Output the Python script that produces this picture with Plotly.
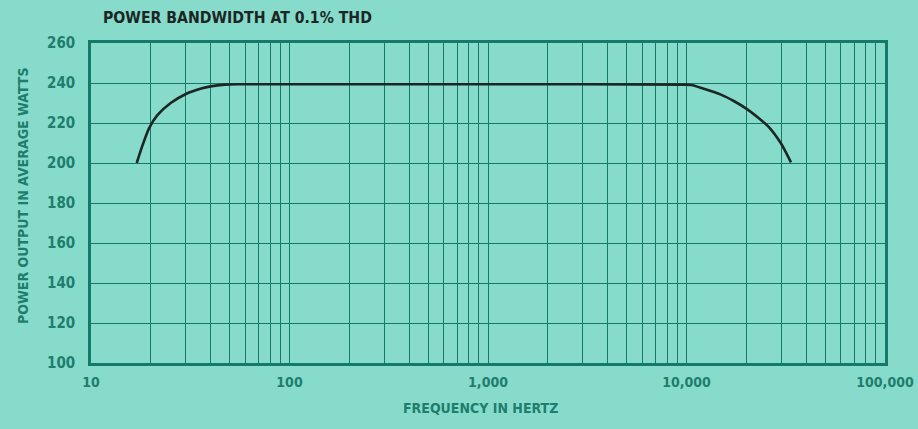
"""Power bandwidth at 0.1% THD -- power output vs frequency (log axis)."""

import plotly.graph_objects as go

# curve (Hz, average watts)
freq_hz = [17.0, 18.1, 19.6, 21.6, 25.3, 29.9, 35.9, 40, 47.1, 55.1, 70, 100,
           1000, 10000, 10600, 11900, 14900, 17300, 20000, 23400, 25800,
           30000, 33600]
power_w = [200, 208.3, 217.3, 223.9, 230.1, 234.4, 237.2, 238.3, 239.2, 239.4,
           239.4, 239.4, 239.4, 239.2, 239, 237.5, 234.2, 231, 227.2, 222,
           218.3, 209.6, 200.3]

y_ticks = [100, 120, 140, 160, 180, 200, 220, 240, 260]
x_ticks = [10, 100, 1000, 10000, 100000]
x_labels = ["10", "100", "1,000", "10,000", "100,000"]

BG = "#86dbcb"
GRID = "#15796a"
TEXT = "#1f7d6d"
INK = "#1c2624"
FONT = "DejaVu Sans Condensed, DejaVu Sans, sans-serif"

# every 2..9 multiple inside each decade gets a grid line
minor_vals = [m * 10 ** d for d in range(1, 5) for m in range(2, 10)]

fig = go.Figure()
fig.add_trace(go.Scatter(
    x=freq_hz, y=power_w, mode="lines",
    line=dict(color=INK, width=2.6, shape="spline", smoothing=0.6),
    hoverinfo="skip", showlegend=False,
))

fig.update_xaxes(
    type="log", range=[1, 5], automargin=False,
    tickvals=x_ticks, ticktext=x_labels, ticks="",
    showgrid=True, gridcolor=GRID, gridwidth=1.2,
    minor=dict(tickvals=minor_vals, showgrid=True, gridcolor=GRID, gridwidth=1.2),
    showline=True, linecolor=GRID, linewidth=2.5, mirror=True,
    tickfont=dict(family=FONT, size=14, color=TEXT, weight="bold"),
    ticklabelstandoff=4, zeroline=False,
)
fig.update_yaxes(
    range=[100, 260], tickvals=y_ticks, ticks="", automargin=False,
    showgrid=True, gridcolor=GRID, gridwidth=1.2,
    showline=True, linecolor=GRID, linewidth=2.5, mirror=True,
    tickfont=dict(family=FONT, size=15, color=TEXT, weight="bold"),
    ticklabelstandoff=10, zeroline=False,
)

fig.add_annotation(
    text="<b>FREQUENCY IN HERTZ</b>", xref="paper", yref="paper",
    x=(480 - 91) / (885 - 91), y=-(408 - 363) / (363 - 43),
    xanchor="center", yanchor="middle", showarrow=False,
    font=dict(family=FONT, size=14, color=TEXT),
)
fig.add_annotation(
    text="<b>POWER OUTPUT IN AVERAGE WATTS</b>", xref="paper", yref="paper",
    x=-(91 - 23) / (885 - 91), y=(363 - 196) / (363 - 43), textangle=-90,
    xanchor="center", yanchor="middle", showarrow=False,
    font=dict(family=FONT, size=14, color=TEXT),
)

fig.update_layout(
    width=918, height=429,
    margin=dict(l=91, r=33, t=43, b=66),
    paper_bgcolor=BG, plot_bgcolor=BG,
    title=dict(text="<b>POWER BANDWIDTH AT 0.1% THD</b>", x=103 / 918, xanchor="left",
               y=1 - 18 / 429, yanchor="middle",
               font=dict(family=FONT, size=15.7, color=INK)),
)

# drop the browser's default body margin so the figure sits at the page corner
fig.write_html(
    "out.html",
    config={"displayModeBar": False},
    post_script="document.body.style.margin='0';"
                "document.body.style.background='" + BG + "';",
)
